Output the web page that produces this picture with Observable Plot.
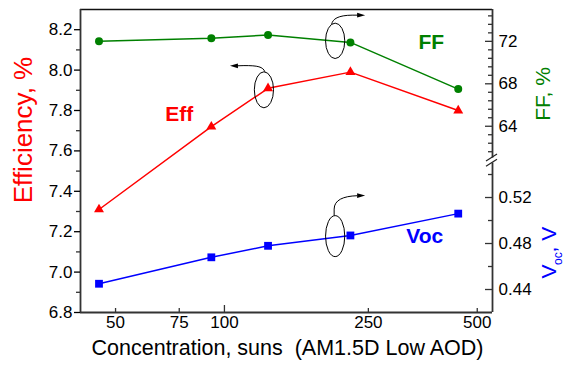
<!DOCTYPE html>
<html><head><meta charset="utf-8">
<script src="https://cdn.jsdelivr.net/npm/d3@7"></script>
<script src="https://cdn.jsdelivr.net/npm/@observablehq/plot@0.6"></script>
<style>body{margin:0;background:#fff} #chart{width:565px;height:369px}</style>
</head><body><div id="chart"></div>
<script>
// ---- data ----
const concentration = [45, 92, 132, 223, 443];
const efficiency = [7.31, 7.72, 7.91, 7.99, 7.80];
const fillFactor = [72.0, 72.3, 72.6, 71.9, 67.5];
const openCircuitVoltage = [0.445, 0.468, 0.478, 0.487, 0.506];

// ---- ticks ----
const xTicks = [50, 75, 100, 250, 500];
const xMajorTicks = [100];
const effTicks = [6.8, 7.0, 7.2, 7.4, 7.6, 7.8, 8.0, 8.2];
const effMinorTicks = [6.9, 7.1, 7.3, 7.5, 7.7, 7.9, 8.1];
const ffTicks = [64, 68, 72];
const ffMinorTicks = [61.6, 62.4, 63.2, 64.8, 65.6, 66.4, 67.2, 68.8, 69.6, 70.4, 71.2, 72.8, 73.6, 74.4];
const vocTicks = [0.44, 0.48, 0.52];
const vocMinorTicks = [0.46, 0.50, 0.54];

// ---- domains ----
const xDomain = [40, 551];
const effDomain = [6.8, 8.3];
const ffDomain = [61, 75];
const vocDomain = [0.42, 0.55];

// ---- annotations (data units) ----
const seriesLabels = [
  {text: "Eff", x: 75, value: 7.78, axis: "eff"},
  {text: "FF", x: 373, value: 71.9, axis: "ff"},
  {text: "Voc", x: 358, value: 0.486, axis: "voc"}
];
const loops = [
  {x: 129, value: 7.90, axis: "eff"},
  {x: 203, value: 72.0, axis: "ff"},
  {x: 203, value: 0.486, axis: "voc"}
];

// map secondary axes into the efficiency coordinate space (broken right axis)
const ff2e = d3.scaleLinear(ffDomain, [7.5644, 8.3]);
const voc2e = d3.scaleLinear(vocDomain, [6.8, 7.540]);
const toEff = {eff: d => d, ff: ff2e, voc: voc2e};
const seriesColor = {eff: "#ff0000", ff: "#008000", voc: "#0000ff"};

const rows = concentration.map((c, i) => ({
  c, eff: efficiency[i], ff: ff2e(fillFactor[i]), voc: voc2e(openCircuitVoltage[i])
}));

const W = 565, H = 369, mL = 80, mR = 73, mT = 9, mB = 57;
const plotW = W - mL - mR, plotH = H - mT - mB;
const axisStroke = "#333";

function loopMark(index, scales) {
  const g = d3.create("svg:g").attr("fill", "none").attr("stroke", "#000").attr("stroke-width", 1);
  loops.forEach((L, i) => {
    const cx = scales.x(L.x), cy = scales.y(toEff[L.axis](L.value));
    let ry, path, head;
    if (i === 0) {
      ry = 18;
      path = `M${cx+1},${cy-18} C${cx-1},${cy-23} ${cx-6},${cy-24.3} ${cx-20},${cy-24.2} L${cx-27},${cy-24}`;
      head = [[cx-34, cy-24], [cx-26, cy-26.4], [cx-26, cy-21.6]];
    } else if (i === 1) {
      ry = 17.7;
      path = `M${cx-3.5},${cy-16.5} C${cx-2.5},${cy-22} ${cx+3},${cy-25.5} ${cx+17},${cy-25.7} L${cx+23},${cy-25.7}`;
      head = [[cx+30, cy-25.7], [cx+22, cy-28.1], [cx+22, cy-23.3]];
    } else {
      ry = 20.5;
      path = `M${cx-1},${cy-20.5} L${cx-1},${cy-27} C${cx-1},${cy-36} ${cx+8},${cy-40} ${cx+22},${cy-40.4}`;
      head = [[cx+30, cy-40.5], [cx+22, cy-42.9], [cx+22, cy-38.1]];
    }
    g.append("ellipse").attr("cx", cx).attr("cy", cy).attr("rx", 9.6).attr("ry", ry);
    g.append("path").attr("d", path);
    g.append("polygon").attr("points", head.map(p => p.join(",")).join(" "))
      .attr("fill", "#000").attr("stroke", "none");
  });
  return g.node();
}

function breakMark(index, scales, values, dims) {
  const xr = dims.width - dims.marginRight;
  const yA = scales.y(ff2e(ffDomain[0])), yB = scales.y(voc2e(vocDomain[1]));
  const mid = (yA + yB) / 2;
  const g = d3.create("svg:g").attr("stroke", "#222").attr("stroke-width", 1.2);
  for (const o of [-2.6, 2.6]) {
    g.append("line").attr("x1", xr - 6).attr("y1", mid + o + 3.5)
      .attr("x2", xr + 5).attr("y2", mid + o - 3.5);
  }
  return g.node();
}

const chart = Plot.plot({
  width: W, height: H,
  marginLeft: mL, marginRight: mR, marginTop: mT, marginBottom: mB,
  style: {fontFamily: "'Liberation Sans', Arial, sans-serif", fontSize: "17px", background: "#fff", color: "#000"},
  x: {type: "log", domain: xDomain, label: null, axis: null},
  y: {domain: effDomain, label: null},
  marks: [
    // frame with broken right axis
    Plot.ruleY([effDomain[1]], {stroke: "#111", strokeWidth: 1.5}),
    Plot.ruleY([effDomain[0]], {stroke: axisStroke, strokeWidth: 1.8}),
    Plot.ruleX([xDomain[0]], {stroke: axisStroke, strokeWidth: 1.8}),
    Plot.ruleX([xDomain[1]], {y1: ff2e(ffDomain[0]), y2: effDomain[1], stroke: axisStroke, strokeWidth: 1.8}),
    Plot.ruleX([xDomain[1]], {y1: effDomain[0], y2: voc2e(vocDomain[1]), stroke: axisStroke, strokeWidth: 1.8}),
    breakMark,

    // x axis: inward ticks + labels
    Plot.tickX(xMajorTicks, {x: d => d, insetTop: plotH - 7, stroke: axisStroke, strokeWidth: 1.3}),
    Plot.tickX(xTicks.filter(t => !xMajorTicks.includes(t)), {x: d => d, insetTop: plotH - 4, stroke: axisStroke, strokeWidth: 1.3}),
    Plot.text(xTicks, {x: d => d, frameAnchor: "bottom", text: d => String(d), textAnchor: "middle", lineAnchor: "top", dy: 3, fontSize: 17, fill: "#000"}),

    // left axis
    Plot.axisY(effTicks, {tickSize: 6, tickPadding: 2, tickFormat: d3.format(".1f"), label: null, fontSize: 17, strokeWidth: 1.3}),
    Plot.tickY(effMinorTicks, {y: d => d, insetLeft: -4, insetRight: plotW, stroke: axisStroke, strokeWidth: 1.3}),

    // right axis (FF, upper part)
    Plot.axisY(ffTicks.map(ff2e), {anchor: "right", tickSize: 0, tickPadding: 6, label: null, fontSize: 17,
      tickFormat: d => String(Math.round(ff2e.invert(d)))}),
    Plot.tickY(ffTicks.map(ff2e), {y: d => d, insetLeft: plotW - 7, stroke: axisStroke, strokeWidth: 1.3}),
    Plot.tickY(ffMinorTicks.map(ff2e), {y: d => d, insetLeft: plotW - 4, stroke: axisStroke, strokeWidth: 1.3}),

    // right axis (Voc, lower part)
    Plot.axisY(vocTicks.map(voc2e), {anchor: "right", tickSize: 0, tickPadding: 6, label: null, fontSize: 17,
      tickFormat: d => d3.format(".2f")(voc2e.invert(d))}),
    Plot.tickY(vocTicks.map(voc2e), {y: d => d, insetLeft: plotW - 7, stroke: axisStroke, strokeWidth: 1.3}),
    Plot.tickY(vocMinorTicks.map(voc2e), {y: d => d, insetLeft: plotW - 4, stroke: axisStroke, strokeWidth: 1.3}),

    // series
    Plot.line(rows, {x: "c", y: "eff", stroke: seriesColor.eff, strokeWidth: 1.5}),
    Plot.line(rows, {x: "c", y: "ff", stroke: seriesColor.ff, strokeWidth: 1.5}),
    Plot.line(rows, {x: "c", y: "voc", stroke: seriesColor.voc, strokeWidth: 1.5}),
    Plot.dot(rows, {x: "c", y: "eff", symbol: "triangle", r: 3.7, fill: seriesColor.eff}),
    Plot.dot(rows, {x: "c", y: "ff", symbol: "circle", r: 4, fill: seriesColor.ff}),
    Plot.dot(rows, {x: "c", y: "voc", symbol: "square", r: 4.4, fill: seriesColor.voc}),

    // annotations
    loopMark,
    Plot.text(seriesLabels, {x: "x", y: d => toEff[d.axis](d.value), text: "text",
      fill: d => seriesColor[d.axis], fontWeight: "bold", fontSize: 21, lineAnchor: "middle"}),

    // axis titles
    Plot.text(["Efficiency, %"], {frameAnchor: "left", rotate: -90, dx: -57, dy: -31, textAnchor: "middle", fill: seriesColor.eff, fontSize: 26, lineAnchor: "middle"}),
    Plot.text(["FF, %"], {frameAnchor: "right", rotate: -90, dx: 50.5, dy: -67, textAnchor: "middle", fill: seriesColor.ff, fontSize: 21, lineAnchor: "middle"}),
    Plot.text(["V"], {frameAnchor: "right", rotate: -90, dx: 57, dy: 117.5, textAnchor: "start", fill: seriesColor.voc, fontSize: 21, lineAnchor: "middle"}),
    Plot.text(["oc"], {frameAnchor: "right", rotate: -90, dx: 65.5, dy: 104, textAnchor: "start", fill: seriesColor.voc, fontSize: 12, lineAnchor: "middle"}),
    Plot.text([", V"], {frameAnchor: "right", rotate: -90, dx: 57, dy: 91.5, textAnchor: "start", fill: seriesColor.voc, fontSize: 21, lineAnchor: "middle"}),
    Plot.text(["Concentration, suns \u00a0(AM1.5D Low AOD)"], {frameAnchor: "bottom", dx: 1, dy: 35.5, textAnchor: "middle", fill: "#000", fontSize: 21.5, lineAnchor: "middle"})
  ]
});
document.getElementById("chart").append(chart);
</script>
</body></html>
